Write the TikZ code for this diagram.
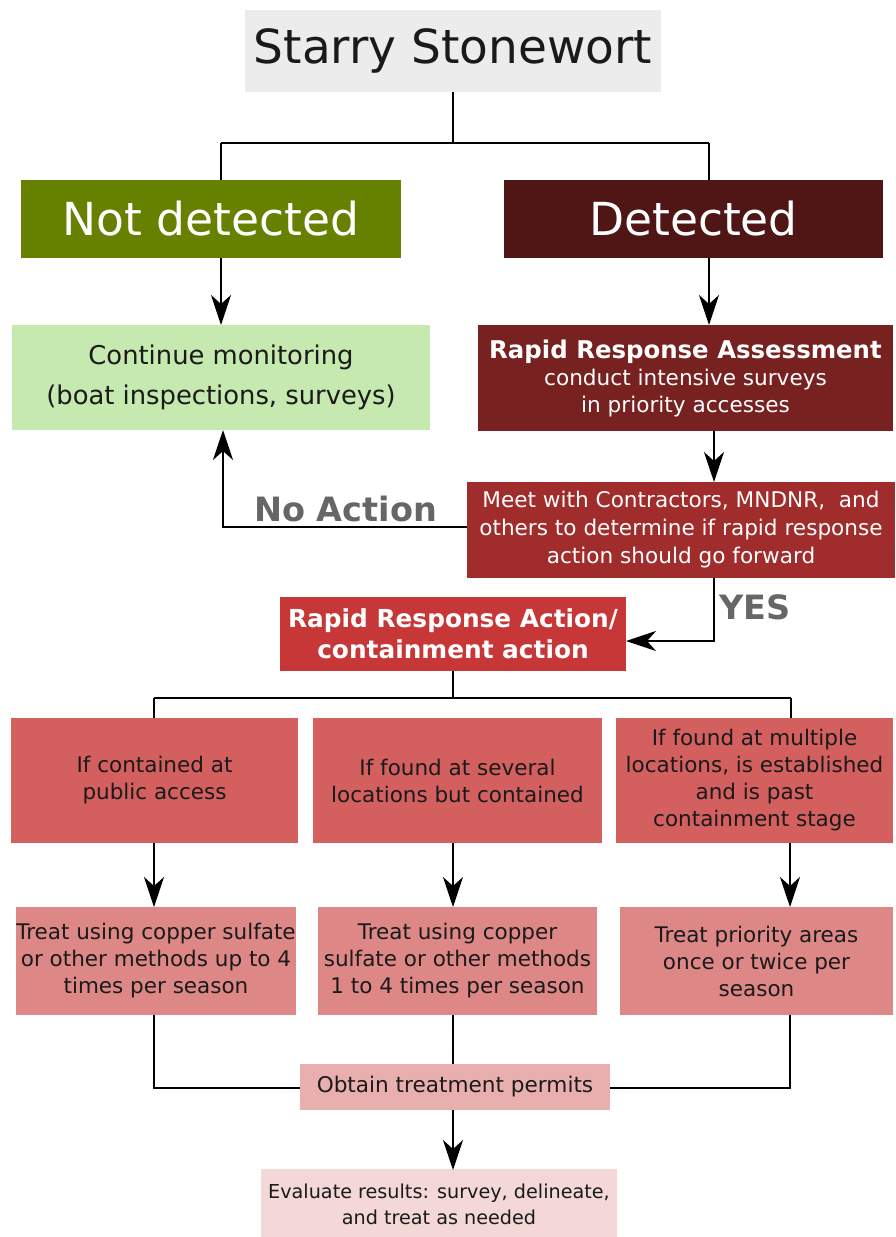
\documentclass[tikz,border=0pt]{standalone}
\usepackage{fontspec}
\setmainfont{DejaVu Sans}
\usetikzlibrary{arrows.meta}
\definecolor{ctitle}{HTML}{ECECEC}
\definecolor{cnot}{HTML}{668000}
\definecolor{cdet}{HTML}{501616}
\definecolor{ccont}{HTML}{C6E9AF}
\definecolor{crra}{HTML}{782121}
\definecolor{cmeet}{HTML}{A02C2C}
\definecolor{cact}{HTML}{C83737}
\definecolor{cif}{HTML}{D35F5F}
\definecolor{ctreat}{HTML}{DE8787}
\definecolor{cperm}{HTML}{E9AFAF}
\definecolor{ceval}{HTML}{F4D7D7}
\definecolor{clab}{HTML}{666666}
\definecolor{ctext}{HTML}{1A1A1A}
\tikzset{
  box/.style={draw=none, inner sep=0pt, align=center, outer sep=0pt, text=ctext},
  link/.style={line width=2pt, draw=black},
  arr/.style={link, -{Stealth[length=30pt, width=20pt, inset=9pt]}},
  lab/.style={text=clab, font=\bfseries\fontsize{33.5}{33.5}\selectfont, inner sep=0pt}
}
\begin{document}
\begin{tikzpicture}[x=1pt, y=-1pt]
\useasboundingbox (0,0) rectangle (895,1237);
% boxes
\node[box, fill=ctitle, minimum width=416pt, minimum height=82pt, font=\fontsize{47}{47}\selectfont] (title) at (453,51) {Starry Stonewort};
\node[box, fill=cnot, text=white, minimum width=380pt, minimum height=78pt, font=\fontsize{45.5}{45.5}\selectfont] (not) at (211,219) {Not detected};
\node[box, fill=cdet, text=white, minimum width=379pt, minimum height=78pt, font=\fontsize{45.5}{45.5}\selectfont] (det) at (693.5,219) {Detected};
\node[box, fill=ccont, minimum width=418pt, minimum height=105pt, font=\fontsize{25.8}{40}\selectfont] (cont) at (221,377.5) {Continue monitoring\\(boat inspections, surveys)};
\node[box, fill=crra, text=white, minimum width=415pt, minimum height=106pt, font=\fontsize{21.6}{27}\selectfont] (rra) at (685.5,378) {{\bfseries\fontsize{24.4}{27}\selectfont Rapid Response Assessment}\\conduct intensive surveys\\in priority accesses};
\node[box, fill=cmeet, text=white, minimum width=428pt, minimum height=96pt, font=\fontsize{21.6}{28}\selectfont] (meet) at (681,530) {Meet with Contractors, MNDNR,\ \ and\\others to determine if rapid response\\action should go forward};
\node[box, fill=cact, text=white, minimum width=346pt, minimum height=74pt, font=\bfseries\fontsize{24.8}{31}\selectfont] (act) at (453,634) {Rapid Response Action/\\containment action};
\node[box, fill=cif, minimum width=287pt, minimum height=125pt, font=\fontsize{21.5}{27}\selectfont] (if1) at (154.5,780.5) {If contained at\\public access};
\node[box, fill=cif, minimum width=289pt, minimum height=125pt, font=\fontsize{21.5}{27}\selectfont] (if2) at (457.5,780.5) {If found at several\\locations but contained};
\node[box, fill=cif, minimum width=277pt, minimum height=125pt, font=\fontsize{21.5}{27}\selectfont] (if3) at (754.5,780.5) {If found at multiple\\locations, is established\\and is past\\containment stage};
\node[box, fill=ctreat, minimum width=280pt, minimum height=108pt, font=\fontsize{21.5}{27}\selectfont] (tr1) at (156,961) {Treat using copper sulfate\\or other methods up to 4\\times per season};
\node[box, fill=ctreat, minimum width=279pt, minimum height=108pt, font=\fontsize{21.5}{27}\selectfont] (tr2) at (457.5,961) {Treat using copper\\sulfate or other methods\\1 to 4 times per season};
\node[box, fill=ctreat, minimum width=273pt, minimum height=108pt, font=\fontsize{21.5}{27}\selectfont] (tr3) at (756.5,961) {Treat priority areas\\once or twice per\\season};
\node[box, fill=cperm, minimum width=310pt, minimum height=46pt, font=\fontsize{21.6}{27}\selectfont] (perm) at (455,1087) {Obtain treatment permits};
\node[box, fill=ceval, minimum width=356pt, minimum height=70pt, font=\fontsize{19.2}{26}\selectfont] (eval) at (439,1204) {Evaluate results: survey, delineate,\\and treat as needed};
% coordinates
\coordinate (split1) at (453,143);
\coordinate (split2) at (453,698);
% connectors
\draw[link] (title.south) -- (split1);
\draw[link] (221,143) -- (709,143);
\draw[link] (221,143) -- (221,180);
\draw[link] (709,143) -- (709,180);
\draw[arr] (221,258) -- (221,325);
\draw[arr] (709,258) -- (709,325);
\draw[arr] (714,431) -- (714,482);
\draw[arr] (meet.west |- 0,527) -- (223,527) -- (223,430);
\node[lab, anchor=west] (noact) at (254,509) {No Action};
\draw[arr] (714,578) -- (714,641) -- (act.east |- 0,641);
\node[lab, anchor=west] (yes) at (719,607) {YES};
\draw[link] (act.south) -- (split2);
\draw[link] (154,698) -- (791,698);
\draw[link] (154,698) -- (154,718);
\draw[link] (791,698) -- (791,718);
\draw[arr] (154,843) -- (154,907);
\draw[arr] (453,843) -- (453,907);
\draw[arr] (790,843) -- (790,907);
\draw[link] (154,1015) -- (154,1088) -- (perm.west |- 0,1088);
\draw[link] (453,1015) -- (453,1064);
\draw[link] (790,1015) -- (790,1088) -- (perm.east |- 0,1088);
\draw[arr] (453,1110) -- (453,1170);
\end{tikzpicture}
\end{document}
